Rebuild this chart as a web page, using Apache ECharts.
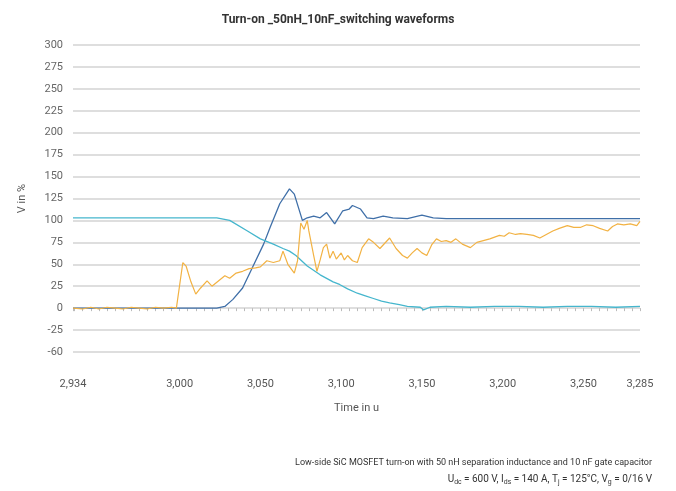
<!DOCTYPE html>
<html>
<head>
<meta charset="utf-8">
<script src="https://cdn.jsdelivr.net/npm/echarts@6/dist/echarts.min.js"></script>
<style>
  html, body { margin: 0; padding: 0; background: #fff; }
  #main { width: 676px; height: 491px; }
</style>
</head>
<body>
<div id="main"></div>
<script>
// time axis labels (u)
var timeLabels = [2934, 3000, 3050, 3100, 3150, 3200, 3250, 3285];
var timeTicks = [2934];
for (var t = 2935; t <= 3285; t += 5) timeTicks.push(t);

// dark blue trace [time, %]
var blueData = [
  [2934, 0], [3000, 0], [3023, 0], [3028, 2], [3033, 10], [3039, 23], [3045, 46],
  [3052, 73], [3056, 92], [3062, 119], [3068, 136], [3071, 130], [3076, 100],
  [3079, 103], [3083, 105], [3087, 103], [3091, 109], [3096, 96], [3101, 111],
  [3105, 113], [3107, 117], [3112, 113], [3116, 103], [3120, 102], [3126, 105],
  [3132, 103], [3141, 102], [3150, 106], [3157, 103], [3165, 102], [3200, 102],
  [3250, 102], [3285, 102]
];

// cyan trace [time, %]
var cyanData = [
  [2934, 103], [3000, 103], [3023, 103], [3031, 100], [3042, 88], [3050, 79],
  [3058, 73], [3064, 68], [3068, 65], [3072, 60], [3079, 48], [3087, 38],
  [3095, 30], [3099, 27], [3104, 22], [3110, 17], [3115, 14], [3120, 11],
  [3125, 8], [3130, 6], [3136, 4], [3141, 2], [3149, 1], [3151, -2], [3155, 1],
  [3165, 2], [3180, 1], [3195, 2], [3210, 2], [3225, 1], [3240, 2], [3255, 2],
  [3270, 1], [3285, 2]
];

// orange trace [time, %]
var orangeData = [
  [2934, 0], [2940, -1], [2945, 1], [2950, -1], [2955, 1], [2960, 0], [2965, -1],
  [2970, 1], [2975, 0], [2980, -1], [2985, 1], [2990, 0], [2995, 1], [2998, 0],
  [3002, 52], [3004, 48], [3007, 30], [3010, 16], [3013, 23], [3017, 31],
  [3020, 25], [3024, 31], [3028, 37], [3031, 34], [3035, 40], [3039, 42],
  [3043, 45], [3047, 46], [3050, 47], [3054, 54], [3058, 52], [3062, 54],
  [3064, 65], [3067, 50], [3071, 40], [3073, 54], [3075, 97], [3077, 90],
  [3079, 100], [3080, 88], [3083, 60], [3085, 42], [3087, 55], [3089, 69],
  [3091, 73], [3093, 57], [3095, 65], [3097, 56], [3100, 63], [3102, 55],
  [3104, 60], [3107, 54], [3110, 52], [3113, 69], [3117, 79], [3120, 75],
  [3124, 68], [3127, 74], [3130, 80], [3134, 68], [3138, 60], [3141, 57],
  [3144, 63], [3147, 68], [3150, 63], [3153, 60], [3156, 72], [3159, 79],
  [3162, 76], [3165, 77], [3168, 75], [3171, 79], [3175, 73], [3180, 69],
  [3184, 75], [3188, 77], [3192, 79], [3195, 81], [3198, 83], [3201, 82],
  [3204, 86], [3208, 84], [3211, 85], [3215, 84], [3219, 83], [3223, 80],
  [3227, 84], [3231, 88], [3235, 91], [3240, 94], [3244, 92], [3248, 92],
  [3252, 95], [3256, 94], [3260, 91], [3265, 88], [3268, 93], [3271, 96],
  [3275, 95], [3279, 96], [3283, 94], [3285, 99]
];

var chart = echarts.init(document.getElementById('main'));
var font = 'Roboto, "DejaVu Sans", sans-serif';

chart.setOption({
  animation: false,
  textStyle: { fontFamily: font },
  title: {
    text: 'Turn-on _50nH_10nF_switching waveforms',
    left: 'center',
    top: 9,
    textStyle: { fontSize: 12, fontWeight: 'bold', color: '#333', fontFamily: font }
  },
  grid: { left: 73, right: 36, top: 45, bottom: 139, containLabel: false },
  xAxis: {
    type: 'value',
    min: 2934,
    max: 3285,
    offset: 15,
    name: 'Time in u',
    nameLocation: 'middle',
    nameGap: 36,
    nameTextStyle: { fontSize: 11, color: '#555' },
    axisLine: { show: false },
    axisTick: { show: true, customValues: timeTicks, length: 3, lineStyle: { color: '#bbb' } },
    axisLabel: {
      customValues: timeLabels,
      fontSize: 11,
      color: '#555',
      margin: 12,
      formatter: function (v) { return String(v).replace(/^(\d)(\d{3})$/, '$1,$2'); }
    },
    splitLine: { show: false }
  },
  yAxis: {
    type: 'value',
    min: -50,
    max: 300,
    interval: 25,
    name: 'V in %',
    nameLocation: 'middle',
    nameGap: 45,
    nameTextStyle: { fontSize: 11, color: '#555' },
    axisLine: { show: false },
    axisTick: { show: false },
    axisLabel: {
      fontSize: 11,
      color: '#666',
      margin: 10,
      formatter: function (v) { return v === -50 ? '-60' : String(v); }
    },
    splitLine: { lineStyle: { color: '#dedede', width: 2 } }
  },
  series: [
    {
      type: 'line', data: blueData, symbol: 'none', z: 2,
      lineStyle: { color: '#3f6fa8', width: 1.3 }
    },
    {
      type: 'line', data: cyanData, symbol: 'none', z: 3,
      lineStyle: { color: '#45b6cd', width: 1.3 }
    },
    {
      type: 'line', data: orangeData, symbol: 'none', z: 4,
      lineStyle: { color: '#f2b243', width: 1.2 }
    }
  ],
  graphic: [
    {
      type: 'text', right: 24, top: 458,
      style: {
        text: 'Low-side SiC MOSFET turn-on with 50 nH separation inductance and 10 nF gate capacitor',
        font: '9px ' + font, fill: '#333', textAlign: 'right'
      }
    },
    {
      type: 'text', right: 24, top: 474,
      style: {
        text: 'U{s|dc} = 600 V, I{s|ds} = 140 A, T{s|j} = 125°C, V{s|g} = 0/16 V',
        font: '10px ' + font, fill: '#333', textAlign: 'right',
        rich: { s: { fontSize: 7, padding: [6, 0, 0, 0], fill: '#333' } }
      }
    }
  ]
});
</script>
</body>
</html>
